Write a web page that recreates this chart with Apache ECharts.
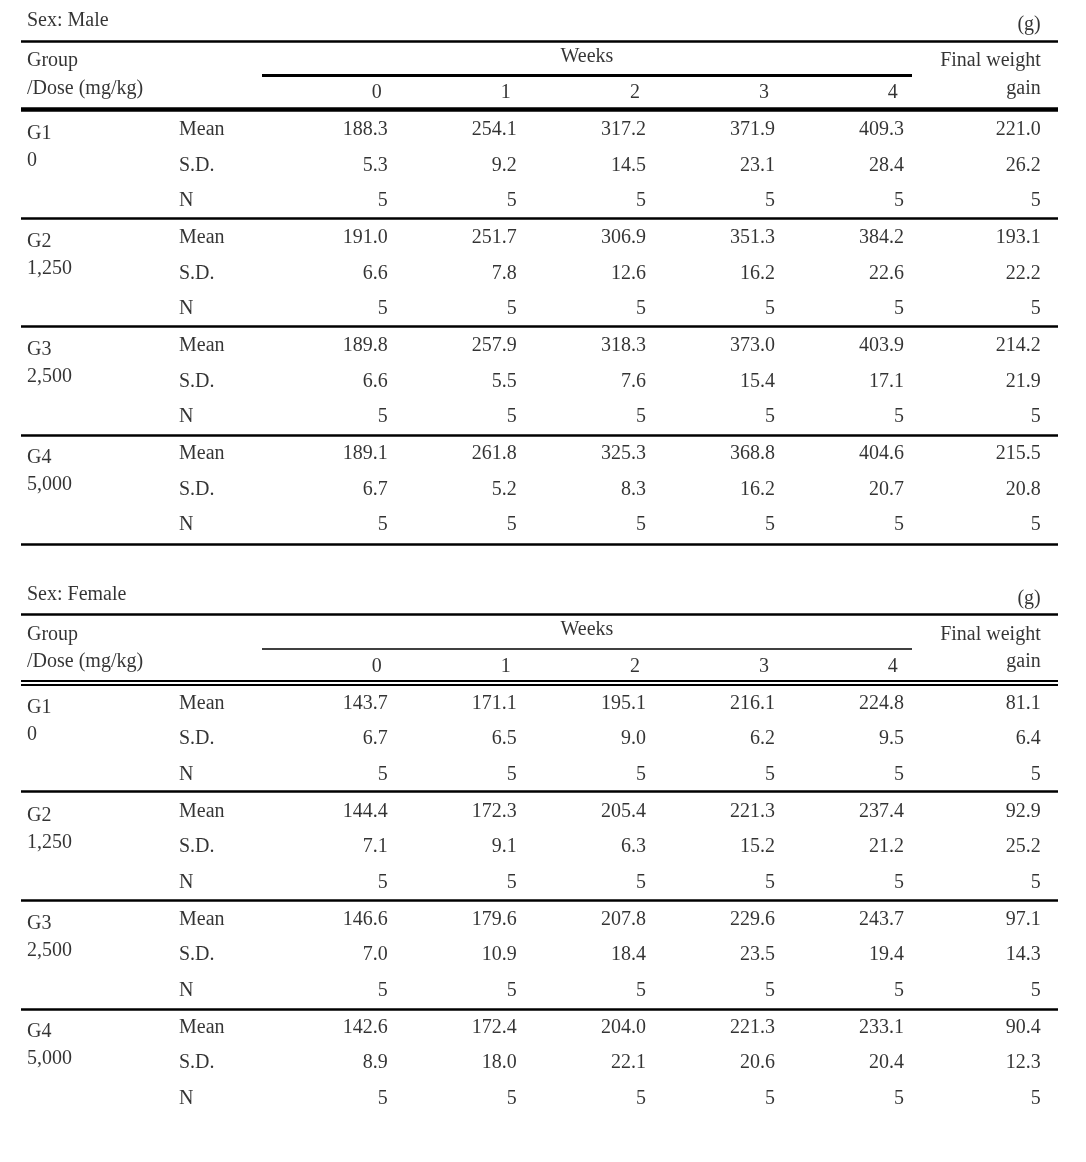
<!DOCTYPE html>
<html>
<head>
<meta charset="utf-8">
<script src="https://cdn.jsdelivr.net/npm/echarts@6/dist/echarts.min.js"></script>
<style>
  html, body { margin: 0; padding: 0; background: #fff; }
  #chart { width: 1086px; height: 1162px; }
</style>
</head>
<body>
<div id="chart"></div>
<script>
const weeks = ['0', '1', '2', '3', '4']
const groups = ['G1', 'G2', 'G3', 'G4']
const doses = ['0', '1,250', '2,500', '5,000']
const stats = ['Mean', 'S.D.', 'N']

// columns: week 0..4, then final weight gain
const maleMean = [
  [188.3, 254.1, 317.2, 371.9, 409.3, 221.0],
  [191.0, 251.7, 306.9, 351.3, 384.2, 193.1],
  [189.8, 257.9, 318.3, 373.0, 403.9, 214.2],
  [189.1, 261.8, 325.3, 368.8, 404.6, 215.5],
]
const maleSD = [
  [5.3, 9.2, 14.5, 23.1, 28.4, 26.2],
  [6.6, 7.8, 12.6, 16.2, 22.6, 22.2],
  [6.6, 5.5, 7.6, 15.4, 17.1, 21.9],
  [6.7, 5.2, 8.3, 16.2, 20.7, 20.8],
]
const maleN = [
  [5, 5, 5, 5, 5, 5],
  [5, 5, 5, 5, 5, 5],
  [5, 5, 5, 5, 5, 5],
  [5, 5, 5, 5, 5, 5],
]
const femaleMean = [
  [143.7, 171.1, 195.1, 216.1, 224.8, 81.1],
  [144.4, 172.3, 205.4, 221.3, 237.4, 92.9],
  [146.6, 179.6, 207.8, 229.6, 243.7, 97.1],
  [142.6, 172.4, 204.0, 221.3, 233.1, 90.4],
]
const femaleSD = [
  [6.7, 6.5, 9.0, 6.2, 9.5, 6.4],
  [7.1, 9.1, 6.3, 15.2, 21.2, 25.2],
  [7.0, 10.9, 18.4, 23.5, 19.4, 14.3],
  [8.9, 18.0, 22.1, 20.6, 20.4, 12.3],
]
const femaleN = [
  [5, 5, 5, 5, 5, 5],
  [5, 5, 5, 5, 5, 5],
  [5, 5, 5, 5, 5, 5],
  [5, 5, 5, 5, 5, 5],
]

// layout (page pixels on hidden value axes)
const W = 1086, H = 1162
const xL = 21, xR = 1058
const xText = 27, xStat = 179
const colRight = [387.7, 516.8, 646, 775, 904, 1040.7]
const headCenter = [376.7, 505.8, 635, 764, 892.7]
const rowStep = 35.7, groupStep = 108
const tShift = 1.2

const texts = []
const rules = []

function txt(x, y, s, align) {
  texts.push({ value: [x, y + tShift], label: { formatter: s, align: align || 'left' } })
}
function rule(x1, x2, y, w) {
  rules.push({ coords: [[x1, y], [x2, y]], lineStyle: { width: w } })
}

function section(title, mean, sd, n, dy, female) {
  txt(xText, 20 + dy, title)
  txt(colRight[5], 24 + dy, '(g)', 'right')
  rule(xL, xR, 41 + dy, 2.7)
  txt(xText, 60 + dy, 'Group')
  txt(xText, 87.5 + dy, '/Dose (mg/kg)')
  txt(587, 55.5 + dy, 'Weeks', 'center')
  rule(262, 912, 75.5 + dy, female ? 1.7 : 2.8)
  weeks.forEach((w, k) => txt(headCenter[k], 92 + dy, w, 'center'))
  txt(colRight[5], 60 + dy, 'Final weight', 'right')
  txt(colRight[5], 87.5 + dy, 'gain', 'right')
  if (female) {
    rule(xL, xR, 680.3 - 573.5 + dy, 2)
    rule(xL, xR, 684.3 - 573.5 + dy, 2)
  } else {
    rule(xL, xR, 109.3 + dy, 4.6)
  }
  const blocks = [mean, sd, n]
  groups.forEach((g, gi) => {
    const y0 = 128.6 + groupStep * gi + dy
    txt(xText, y0 + 4, g)
    txt(xText, y0 + 31, doses[gi])
    stats.forEach((s, si) => {
      const y = y0 + rowStep * si
      txt(xStat, y, s)
      blocks[si][gi].forEach((v, c) => {
        txt(colRight[c], y, si === 2 ? String(v) : v.toFixed(1), 'right')
      })
    })
    if (!female || gi < groups.length - 1) rule(xL, xR, 218 + 108.7 * gi + dy, 2.7)
  })
}

section('Sex: Male', maleMean, maleSD, maleN, 0, false)
section('Sex: Female', femaleMean, femaleSD, femaleN, 573.5, true)

const chart = echarts.init(document.getElementById('chart'))
chart.setOption({
  animation: false,
  backgroundColor: '#fff',
  grid: { left: 0, right: 0, top: 0, bottom: 0 },
  xAxis: { type: 'value', min: 0, max: W, show: false },
  yAxis: { type: 'value', min: 0, max: H, inverse: true, show: false },
  series: [
    {
      type: 'lines',
      coordinateSystem: 'cartesian2d',
      silent: true,
      lineStyle: { color: '#000', opacity: 1, curveness: 0 },
      data: rules,
    },
    {
      type: 'scatter',
      silent: true,
      symbolSize: 0,
      label: {
        show: true,
        position: 'inside',
        verticalAlign: 'middle',
        color: '#000',
        fontFamily: 'Liberation Serif',
        fontSize: 20,
      },
      data: texts,
    },
  ],
})
</script>
</body>
</html>
